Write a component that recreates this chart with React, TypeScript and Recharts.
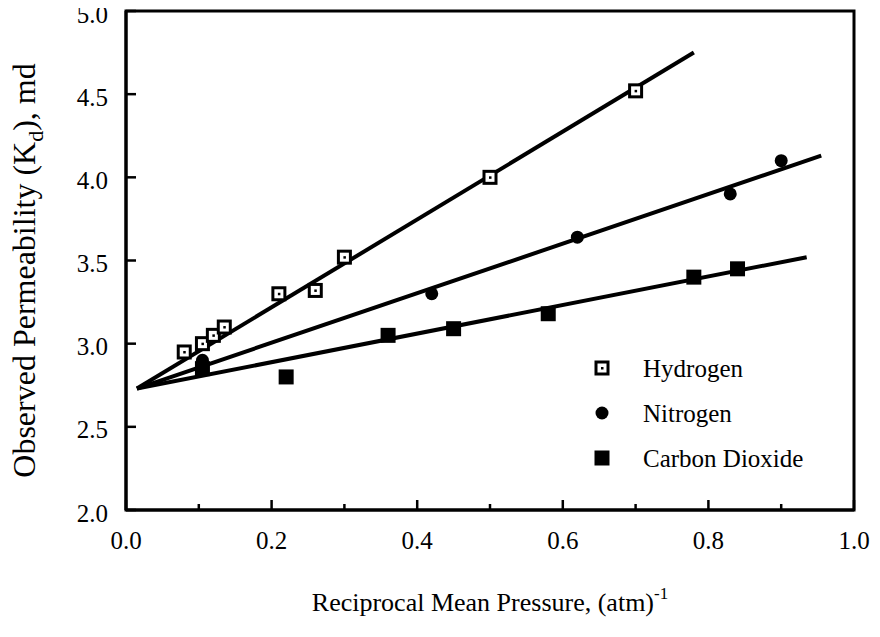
import { ScatterChart, Scatter, XAxis, YAxis, ReferenceArea } from 'recharts';

// measured permeability vs reciprocal mean pressure
const hydrogen = [
  { x: 0.08, y: 2.95 },
  { x: 0.105, y: 3.0 },
  { x: 0.12, y: 3.05 },
  { x: 0.135, y: 3.1 },
  { x: 0.21, y: 3.3 },
  { x: 0.26, y: 3.32 },
  { x: 0.3, y: 3.52 },
  { x: 0.5, y: 4.0 },
  { x: 0.7, y: 4.52 },
];
const nitrogen = [
  { x: 0.105, y: 2.9 },
  { x: 0.42, y: 3.3 },
  { x: 0.62, y: 3.64 },
  { x: 0.83, y: 3.9 },
  { x: 0.9, y: 4.1 },
];
const carbonDioxide = [
  { x: 0.105, y: 2.85 },
  { x: 0.22, y: 2.8 },
  { x: 0.36, y: 3.05 },
  { x: 0.45, y: 3.09 },
  { x: 0.58, y: 3.18 },
  { x: 0.78, y: 3.4 },
  { x: 0.84, y: 3.45 },
];

// Klinkenberg fit lines (end points)
const hydrogenFit = [
  { x: 0.015, y: 2.73 },
  { x: 0.78, y: 4.75 },
];
const nitrogenFit = [
  { x: 0.015, y: 2.73 },
  { x: 0.955, y: 4.13 },
];
const carbonDioxideFit = [
  { x: 0.015, y: 2.73 },
  { x: 0.935, y: 3.52 },
];

const xTicks = [0, 0.1, 0.2, 0.3, 0.4, 0.5, 0.6, 0.7, 0.8, 0.9, 1.0];
const yTicks = [2.0, 2.5, 3.0, 3.5, 4.0, 4.5, 5.0];

const serif = { fontFamily: "'Liberation Serif', 'Times New Roman', Times, serif" };

const HydrogenMark = ({ cx, cy }: any) => (
  <g>
    <rect x={cx - 6} y={cy - 6} width={12} height={12} fill="#fff" stroke="#000" strokeWidth={3} />
    <rect x={cx - 1} y={cy - 1} width={2.5} height={2.5} fill="#000" />
  </g>
);
const NitrogenMark = ({ cx, cy }: any) => <circle cx={cx} cy={cy} r={6.5} fill="#000" />;
const CarbonMark = ({ cx, cy }: any) => (
  <rect x={cx - 7.5} y={cy - 7.5} width={15} height={15} fill="#000" />
);
const NoMark = () => <g />;

// ticks point into the plot; minor ticks on x get no label
const XTick = ({ x, y, payload }: any) => {
  const major = Math.round(payload.value * 10) % 2 === 0;
  return (
    <g>
      <line x1={x} y1={y} x2={x} y2={y - (major ? 10 : 6)} stroke="#000" strokeWidth={2.5} />
      {major && (
        <text x={x} y={y + 30} textAnchor="middle" dominantBaseline="central" style={serif} fontSize={25} fill="#000">
          {payload.value.toFixed(1)}
        </text>
      )}
    </g>
  );
};

const YTick = ({ x, y, payload }: any) => (
  <g>
    <line x1={x} y1={y} x2={x + 10} y2={y} stroke="#000" strokeWidth={2.5} />
    <text x={x - 18} y={y + 3} textAnchor="end" dominantBaseline="central" style={serif} fontSize={25} fill="#000">
      {payload.value.toFixed(1)}
    </text>
  </g>
);

const XTitle = ({ viewBox }: any) => (
  <text x={viewBox.x + viewBox.width / 2} y={viewBox.y + 101} textAnchor="middle" style={serif} fontSize={26} fill="#000">
    Reciprocal Mean Pressure, (atm)
    <tspan fontSize={17} dy={-12}>-1</tspan>
  </text>
);

const YTitle = ({ viewBox }: any) => {
  const cx = viewBox.x + 27;
  const cy = viewBox.y + viewBox.height / 2 + 10;
  return (
    <text x={cx} y={cy} transform={`rotate(-90 ${cx} ${cy})`} textAnchor="middle" style={serif} fontSize={32} fill="#000">
      Observed Permeability (K
      <tspan fontSize={22} dy={8}>d</tspan>
      <tspan dy={-8}>), md</tspan>
    </text>
  );
};

const legendItems = [
  { name: 'Hydrogen', Mark: HydrogenMark },
  { name: 'Nitrogen', Mark: NitrogenMark },
  { name: 'Carbon Dioxide', Mark: CarbonMark },
];

const GasLegend = () => (
  <svg width={240} height={140} style={{ position: 'absolute', left: 592, top: 352 }}>
    {legendItems.map((item, i) => (
      <g key={item.name}>
        <item.Mark cx={10} cy={16 + i * 45} />
        <text x={51} y={16 + i * 45} dominantBaseline="central" style={serif} fontSize={25} fill="#000">
          {item.name}
        </text>
      </g>
    ))}
  </svg>
);

export default function App() {
  return (
    <div style={{ position: 'relative', width: 872, height: 628, margin: '-8px 0 0 -8px' }}>
      <ScatterChart width={872} height={628} margin={{ top: 11, right: 18, left: 8, bottom: 0 }}>
        <XAxis
          type="number"
          dataKey="x"
          domain={[0, 1]}
          ticks={xTicks}
          interval={0}
          height={118}
          tickSize={0}
          tickMargin={0}
          tickLine={false}
          tick={<XTick />}
          axisLine={{ stroke: '#000', strokeWidth: 3 }}
          label={<XTitle />}
        />
        <YAxis
          type="number"
          dataKey="y"
          domain={[2, 5]}
          ticks={yTicks}
          interval={0}
          width={118}
          tickSize={0}
          tickMargin={0}
          tickLine={false}
          tick={<YTick />}
          axisLine={{ stroke: '#000', strokeWidth: 3 }}
          label={<YTitle />}
        />
        <ReferenceArea x1={0} x2={1} y1={2} y2={5} fill="none" stroke="#000" strokeWidth={3} />
        <Scatter data={hydrogenFit} line={{ stroke: '#000', strokeWidth: 4 }} shape={NoMark} legendType="none" isAnimationActive={false} />
        <Scatter data={nitrogenFit} line={{ stroke: '#000', strokeWidth: 4 }} shape={NoMark} legendType="none" isAnimationActive={false} />
        <Scatter data={carbonDioxideFit} line={{ stroke: '#000', strokeWidth: 4 }} shape={NoMark} legendType="none" isAnimationActive={false} />
        <Scatter name="Hydrogen" data={hydrogen} shape={HydrogenMark} isAnimationActive={false} />
        <Scatter name="Nitrogen" data={nitrogen} shape={NitrogenMark} isAnimationActive={false} />
        <Scatter name="Carbon Dioxide" data={carbonDioxide} shape={CarbonMark} isAnimationActive={false} />
      </ScatterChart>
      <GasLegend />
    </div>
  );
}
